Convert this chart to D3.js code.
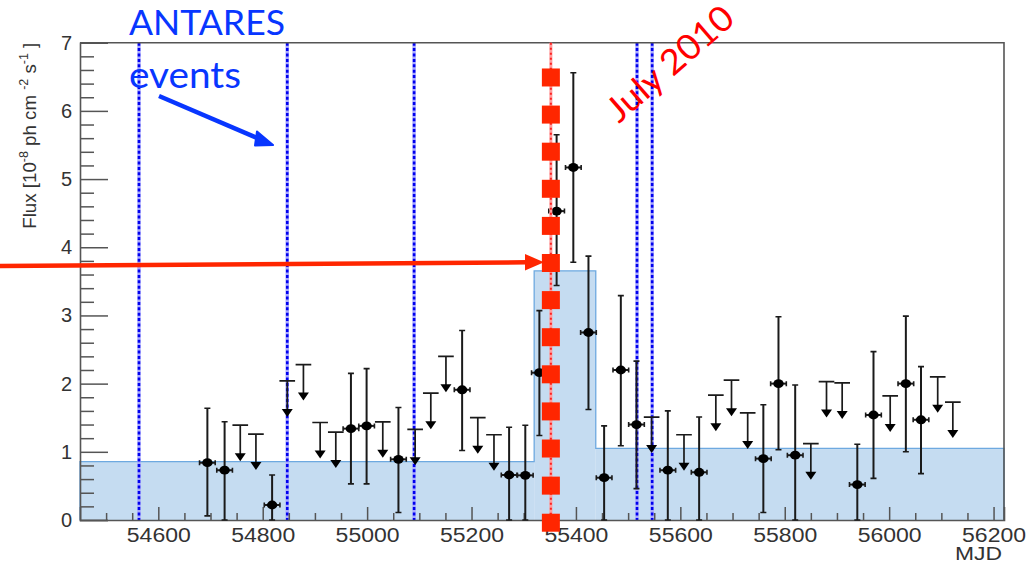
<!DOCTYPE html>
<html>
<head>
<meta charset="utf-8">
<script src="https://cdn.jsdelivr.net/npm/d3@7"></script>
<style>
  html, body { margin: 0; padding: 0; background: #fff; }
  svg { display: block; }
</style>
</head>
<body>
<svg id="chart" width="1036" height="565"></svg>
<script>
// Light curve: monthly flux points, upper limits, Bayesian-block level, neutrino event times

// Detections (MJD, flux, lower and upper error bounds) in 1e-8 ph cm^-2 s^-1
const detMjd  = [54694, 54727, 54818, 54969, 54999, 55060, 55182, 55272, 55303, 55330, 55363, 55395, 55424, 55454, 55486, 55516, 55576, 55636, 55759, 55788, 55820, 55939, 55970, 56032, 56061];
const detFlux = [0.84, 0.73, 0.22, 1.34, 1.38, 0.89, 1.91, 0.66, 0.655, 2.16, 4.53, 5.17, 2.75, 0.62, 2.20, 1.40, 0.73, 0.70, 0.90, 2.00, 0.95, 0.52, 1.54, 2.00, 1.47];
const detLo   = [0.06, 0.00, 0.00, 0.53, 0.53, 0.11, 1.02, 0.00, 0.00, 1.24, 3.44, 3.78, 1.62, 0.00, 1.09, 0.46, 0.00, 0.00, 0.11, 1.03, 0.00, 0.00, 0.61, 1.00, 0.68];
const detHi   = [1.64, 1.44, 0.66, 2.15, 2.22, 1.65, 2.78, 1.36, 1.39, 3.07, 5.65, 6.56, 3.87, 1.38, 3.29, 2.33, 1.60, 1.51, 1.69, 2.98, 1.98, 1.11, 2.47, 2.99, 2.25];

// Upper limits (MJD, flux)
const ulMjd  = [54757, 54787, 54847, 54878, 54910, 54940, 55030, 55092, 55122, 55151, 55212, 55243, 55545, 55607, 55668, 55698, 55729, 55850, 55880, 55910, 56002, 56093, 56122];
const ulFlux = [1.39, 1.26, 2.04, 2.28, 1.43, 1.29, 1.44, 1.33, 1.86, 2.40, 1.50, 1.25, 1.51, 1.25, 1.83, 2.05, 1.57, 1.12, 2.03, 2.01, 1.82, 2.10, 1.73];

// Half width of each monthly bin, days
const binHalf = [15];

// Bayesian blocks: edges (MJD) and levels
const blockEdges  = [54450, 55320, 55438, 56220];
const blockLevels = [0.855, 3.655, 1.05];

// ANTARES neutrino event times (MJD)
const antaresMjd = [54563, 54847, 55090, 55517, 55546];

// July 2010 flare marker
const flareMjd = [55352];
const flareFluxRange = [-0.04, 6.49];

// Axis ticks
const xTickValues = [54600, 54800, 55000, 55200, 55400, 55600, 55800, 56000, 56200];
const yTickValues = [0, 1, 2, 3, 4, 5, 6, 7];
const xDomain = [54450, 56220];
const yDomain = [0, 7];

const svg = d3.select("#chart");
const L = 80, R = 1004, T = 42.7, B = 520;

const x = d3.scaleLinear().domain(xDomain).range([L, R]);
const y = d3.scaleLinear().domain(yDomain).range([B, T]);

const axisColor = "#555";
const inkColor = "#1a1a1a";
const rootFont = "Liberation Sans, Arial, sans-serif";

// Bayesian block histogram
const blocks = blockLevels.map((v, i) => ({ x0: blockEdges[i], x1: blockEdges[i + 1], v }));
svg.append("g").selectAll("rect").data(blocks).join("rect")
  .attr("x", d => x(d.x0)).attr("width", d => x(d.x1) - x(d.x0))
  .attr("y", d => y(d.v)).attr("height", d => y(0) - y(d.v))
  .attr("fill", "#c5dcf1");
const stepPts = [];
blocks.forEach(d => { stepPts.push([d.x0, d.v]); stepPts.push([d.x1, d.v]); });
svg.append("path")
  .attr("d", d3.line().x(d => x(d[0])).y(d => y(d[1]))([[blockEdges[0], 0], ...stepPts, [blockEdges[blockEdges.length - 1], 0]]))
  .attr("fill", "none").attr("stroke", "#6ea9e0").attr("stroke-width", 1.3);

// ANTARES event lines
const evG = svg.append("g");
evG.selectAll("line.halo").data(antaresMjd).join("line").attr("class", "halo")
  .attr("x1", d => x(d)).attr("x2", d => x(d)).attr("y1", y(7)).attr("y2", y(0))
  .attr("stroke", "#a8a8ff").attr("stroke-width", 3.4);
evG.selectAll("line.core").data(antaresMjd).join("line").attr("class", "core")
  .attr("x1", d => x(d)).attr("x2", d => x(d)).attr("y1", y(7)).attr("y2", y(0))
  .attr("stroke", "#0000ee").attr("stroke-width", 2.6).attr("stroke-dasharray", "3 2.4");

// Frame
svg.append("path")
  .attr("d", `M${L},${T}H${R}V${B}`)
  .attr("fill", "none").attr("stroke", axisColor).attr("stroke-width", 1.6);

// Y axis with inward ticks
const yAxis = svg.append("g").attr("transform", `translate(${L},0)`)
  .call(d3.axisLeft(y).tickValues(yTickValues).tickFormat(d3.format("d")).tickSize(-28).tickPadding(8));
svg.append("g").attr("transform", `translate(${L},0)`)
  .call(d3.axisLeft(y).tickValues(d3.range(0, 7.001, 0.2).filter(v => Math.abs(v - Math.round(v)) > 1e-6)).tickFormat("").tickSize(-14))
  .call(g => g.select(".domain").remove());

// X axis with inward ticks
const xAxis = svg.append("g").attr("transform", `translate(0,${B})`)
  .call(d3.axisBottom(x).tickValues(xTickValues).tickFormat(d3.format("d")).tickSize(-13).tickPadding(8));
svg.append("g").attr("transform", `translate(0,${B})`)
  .call(d3.axisBottom(x).tickValues(d3.range(54500, 56201, 50).filter(v => v % 200 !== 0)).tickFormat("").tickSize(-7))
  .call(g => g.select(".domain").remove());

svg.selectAll(".tick line").attr("stroke", axisColor).attr("stroke-width", 1.5);
svg.selectAll(".domain").attr("stroke", axisColor).attr("stroke-width", 1.6);
yAxis.selectAll("text")
  .attr("font-family", rootFont).attr("font-size", 20).attr("fill", "#333");
xAxis.selectAll("text")
  .attr("font-family", rootFont).attr("font-size", 20).attr("fill", "#333")
  .attr("textLength", 64).attr("lengthAdjust", "spacingAndGlyphs");

svg.append("text").attr("x", 1002).attr("y", 560)
  .attr("text-anchor", "end").attr("font-family", rootFont)
  .attr("font-size", 18).attr("fill", "#333")
  .attr("textLength", 47).attr("lengthAdjust", "spacingAndGlyphs").text("MJD");

// Y axis title
const yt = svg.append("text")
  .attr("transform", `translate(36,${T}) rotate(-90)`)
  .attr("text-anchor", "end")
  .attr("font-family", rootFont).attr("font-size", 18).attr("fill", "#333")
  .attr("textLength", 186).attr("lengthAdjust", "spacingAndGlyphs");
yt.append("tspan").text("Flux [10");
yt.append("tspan").attr("dy", -8).attr("font-size", 12).text("-8");
yt.append("tspan").attr("dy", 8).text(" ph cm ");
yt.append("tspan").attr("dy", -8).attr("font-size", 12).text("-2");
yt.append("tspan").attr("dy", 8).text(" s");
yt.append("tspan").attr("dy", -8).attr("font-size", 12).text("-1");
yt.append("tspan").attr("dy", 8).text(" ]");

// Detections: error bars and markers
const dets = detMjd.map((m, i) => ({ m, f: detFlux[i], lo: detLo[i], hi: detHi[i] }));
const dg = svg.append("g").attr("stroke", inkColor);
const hw = binHalf[0];
dg.selectAll("line.ey").data(dets).join("line").attr("class", "ey")
  .attr("x1", d => x(d.m)).attr("x2", d => x(d.m)).attr("y1", d => y(d.lo)).attr("y2", d => y(d.hi))
  .attr("stroke-width", 2);
dg.selectAll("path.caps").data(dets).join("path").attr("class", "caps")
  .attr("d", d => `M${x(d.m) - 3},${y(d.hi)}h6M${x(d.m) - 3},${y(d.lo)}h6`)
  .attr("stroke-width", 1.6).attr("fill", "none");
dg.selectAll("line.ex").data(dets).join("line").attr("class", "ex")
  .attr("x1", d => x(d.m - hw)).attr("x2", d => x(d.m + hw)).attr("y1", d => y(d.f)).attr("y2", d => y(d.f))
  .attr("stroke-width", 2);
dg.selectAll("path.xcaps").data(dets).join("path").attr("class", "xcaps")
  .attr("d", d => `M${x(d.m - hw)},${y(d.f) - 2.5}v5M${x(d.m + hw)},${y(d.f) - 2.5}v5`)
  .attr("stroke-width", 1.6).attr("fill", "none");
svg.append("g").selectAll("ellipse").data(dets).join("ellipse")
  .attr("cx", d => x(d.m)).attr("cy", d => y(d.f)).attr("rx", 5.2).attr("ry", 4.4)
  .attr("fill", "#000");

// Upper limits: cap, stem and downward arrow
const uls = ulMjd.map((m, i) => ({ m, f: ulFlux[i] }));
const ug = svg.append("g");
ug.selectAll("path.cap").data(uls).join("path").attr("class", "cap")
  .attr("d", d => `M${x(d.m - hw)},${y(d.f)}H${x(d.m + hw)}M${x(d.m)},${y(d.f)}v29`)
  .attr("stroke", inkColor).attr("stroke-width", 1.7).attr("fill", "none");
ug.selectAll("path.head").data(uls).join("path").attr("class", "head")
  .attr("d", d => `M${x(d.m) - 5.5},${y(d.f) + 28}h11l-5.5,8z`)
  .attr("fill", "#000");

// Flare marker: dotted line with square dashes
const fx = x(flareMjd[0]);
svg.append("line").attr("x1", fx).attr("x2", fx).attr("y1", y(7)).attr("y2", y(0))
  .attr("stroke", "#ff9c9c").attr("stroke-width", 3);
svg.append("line").attr("x1", fx).attr("x2", fx).attr("y1", y(7)).attr("y2", y(0))
  .attr("stroke", "#ff2020").attr("stroke-width", 2).attr("stroke-dasharray", "2 3");
const nSq = 13;
const sqCenters = d3.range(nSq).map(i => flareFluxRange[0] + i * (flareFluxRange[1] - flareFluxRange[0]) / (nSq - 1));
svg.append("g").selectAll("rect").data(sqCenters).join("rect")
  .attr("x", fx - 9).attr("y", d => y(d) - 9).attr("width", 18).attr("height", 18)
  .attr("fill", "#ff2600");

// Annotations
svg.append("line").attr("x1", 0).attr("y1", 266).attr("x2", 527).attr("y2", 262.3)
  .attr("stroke", "#ff2600").attr("stroke-width", 4.5);
svg.append("path").attr("d", "M525,254L544,262.3L525,270.5Z").attr("fill", "#ff2600");

svg.append("line").attr("x1", 159).attr("y1", 96).attr("x2", 262).attr("y2", 140)
  .attr("stroke", "#0836ff").attr("stroke-width", 4.5);
svg.append("path").attr("d", "M257,131.5L273,145L255,145.5Z").attr("fill", "#0836ff")
  .attr("stroke", "#0836ff").attr("stroke-width", 2).attr("stroke-linejoin", "round");

svg.append("text").attr("x", 129).attr("y", 35)
  .attr("font-family", "Lato, 'Open Sans', sans-serif").attr("font-size", 35).attr("fill", "#0836ff")
  .attr("textLength", 156).attr("lengthAdjust", "spacingAndGlyphs").text("ANTARES");
svg.append("text").attr("x", 129).attr("y", 88)
  .attr("font-family", "Lato, 'Open Sans', sans-serif").attr("font-size", 37).attr("fill", "#0836ff")
  .attr("textLength", 112).attr("lengthAdjust", "spacingAndGlyphs").text("events");

svg.append("text").attr("transform", "translate(619,124) rotate(-41)")
  .attr("font-family", "Lato, 'Open Sans', sans-serif").attr("font-size", 35).attr("fill", "#ff0000")
  .attr("textLength", 156).attr("lengthAdjust", "spacingAndGlyphs").text("July 2010");
</script>
</body>
</html>
